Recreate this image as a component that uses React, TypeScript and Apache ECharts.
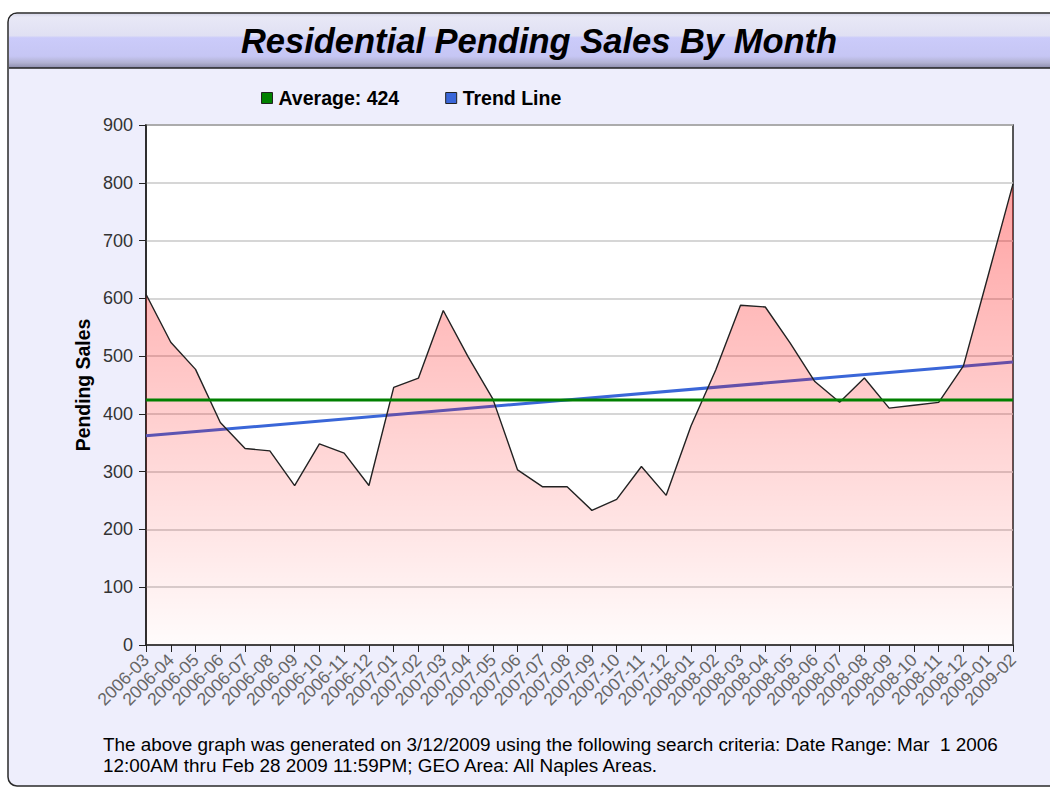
import React, { useEffect, useRef } from "react";
import * as echarts from "echarts";

const months = [
  "2006-03","2006-04","2006-05","2006-06","2006-07","2006-08","2006-09","2006-10","2006-11","2006-12",
  "2007-01","2007-02","2007-03","2007-04","2007-05","2007-06","2007-07","2007-08","2007-09","2007-10","2007-11","2007-12",
  "2008-01","2008-02","2008-03","2008-04","2008-05","2008-06","2008-07","2008-08","2008-09","2008-10","2008-11","2008-12",
  "2009-01","2009-02",
];
const pendingSales = [
  607, 524, 477, 385, 340, 336, 276, 348, 332, 276,
  446, 462, 579, 499, 426, 303, 274, 274, 233, 252, 309, 259,
  379, 476, 588, 585, 523, 456, 420, 462, 410, 415, 420, 483,
  640, 798,
];
const averageValue = 424;
const trendEnds = [362, 490];
const yTicks = { min: 0, max: 900, interval: 100 };

const titleText = "Residential Pending Sales By Month";
const yAxisName = "Pending Sales";
const avgName = "Average: " + averageValue;
const trendName = "Trend Line";
const footerText =
  "The above graph was generated on 3/12/2009 using the following search criteria: Date Range: Mar  1 2006\n12:00AM thru Feb 28 2009 11:59PM; GEO Area: All Naples Areas.";

const FONT = 'Arial, "Liberation Sans", sans-serif';

export default function App() {
  const ref = useRef<HTMLDivElement>(null);
  useEffect(() => {
    if (!ref.current) return;
    const chart = echarts.init(ref.current, undefined, { renderer: "svg" });
    const last = months.length - 1;
    chart.setOption({
      animation: false,
      textStyle: { fontFamily: FONT },
      graphic: [
        {
          type: "rect",
          z: -10,
          shape: { x: 8, y: 13, width: 1100, height: 773, r: [9, 0, 0, 9] },
          style: { fill: "#eeeefc", stroke: "#2a2a2a", lineWidth: 1.5 },
        },
        {
          type: "rect",
          z: -9,
          shape: { x: 9, y: 14, width: 1100, height: 54, r: [8, 0, 0, 0] },
          style: {
            fill: new echarts.graphic.LinearGradient(0, 0, 0, 1, [
              { offset: 0, color: "#d8d8ea" },
              { offset: 0.06, color: "#e8e8f6" },
              { offset: 0.4, color: "#e0e0f3" },
              { offset: 0.44, color: "#cbcbfa" },
              { offset: 0.78, color: "#c6c6f4" },
              { offset: 0.9, color: "#b2b2d2" },
              { offset: 1, color: "#8c8cab" },
            ]),
          },
        },
        {
          type: "line",
          z: -8,
          shape: { x1: 9, y1: 68, x2: 1050, y2: 68 },
          style: { stroke: "#222", lineWidth: 1.5 },
        },
        {
          type: "text",
          x: 539,
          y: 41,
          style: {
            text: titleText,
            font: `italic bold 34.5px ${FONT}`,
            fill: "#000",
            align: "center",
            verticalAlign: "middle",
          },
        },
        {
          type: "text",
          x: 103,
          y: 734,
          style: {
            text: footerText,
            font: `18.9px ${FONT}`,
            lineHeight: 21,
            fill: "#000",
            align: "left",
            verticalAlign: "top",
          },
        },
      ],
      legend: {
        data: [avgName, trendName],
        left: 256,
        top: 83,
        icon: "rect",
        itemWidth: 11,
        itemHeight: 11,
        itemGap: 46,
        itemStyle: { borderColor: "#222", borderWidth: 1 },
        textStyle: { fontFamily: FONT, fontWeight: "bold", fontSize: 19.5, color: "#000", padding: [0, 0, 0, 1] },
      },
      grid: {
        left: 146,
        top: 125,
        width: 867,
        height: 520,
        show: true,
        backgroundColor: "#ffffff",
        borderColor: "#222",
        borderWidth: 1.5,
      },
      xAxis: {
        type: "category",
        data: months,
        boundaryGap: false,
        axisLine: { lineStyle: { color: "#222", width: 1.5 } },
        axisTick: { show: true, interval: 0, length: 7, lineStyle: { color: "#222" } },
        axisLabel: { interval: 0, rotate: 45, fontSize: 17.5, color: "#666", margin: 12, fontFamily: FONT },
        splitLine: { show: false },
      },
      yAxis: {
        type: "value",
        min: yTicks.min,
        max: yTicks.max,
        interval: yTicks.interval,
        name: yAxisName,
        nameLocation: "middle",
        nameGap: 53,
        nameRotate: 90,
        nameTextStyle: { fontWeight: "bold", fontSize: 19.4, color: "#000", fontFamily: FONT },
        axisLine: { show: true, lineStyle: { color: "#222", width: 1.5 } },
        axisTick: { show: true, length: 7, lineStyle: { color: "#222" } },
        axisLabel: { fontSize: 18, color: "#333", margin: 13, fontFamily: FONT },
        splitLine: { lineStyle: { color: "#c8c8c8", width: 1.5 } },
      },
      series: [
        {
          name: trendName,
          type: "line",
          data: [[0, trendEnds[0]], [last, trendEnds[1]]],
          symbol: "none",
          color: "#3a66d8",
          lineStyle: { color: "#3a66d8", width: 3 },
          z: 1,
        },
        {
          name: "Pending Sales",
          type: "line",
          data: pendingSales,
          symbol: "none",
          color: "#ff6666",
          lineStyle: { color: "#222", width: 1.4 },
          areaStyle: {
            color: new echarts.graphic.LinearGradient(0, 0, 0, 1, [
              { offset: 0, color: "rgba(255,0,0,0.52)" },
              { offset: 1, color: "rgba(255,0,0,0.02)" },
            ]),
          },
          z: 2,
        },
        {
          name: avgName,
          type: "line",
          data: [[0, averageValue], [last, averageValue]],
          symbol: "none",
          color: "#008000",
          lineStyle: { color: "#008000", width: 3 },
          z: 3,
        },
      ],
    });
    return () => chart.dispose();
  }, []);
  return (
    <div
      ref={ref}
      style={{ position: "absolute", left: 0, top: 0, width: 1050, height: 787 }}
    />
  );
}
